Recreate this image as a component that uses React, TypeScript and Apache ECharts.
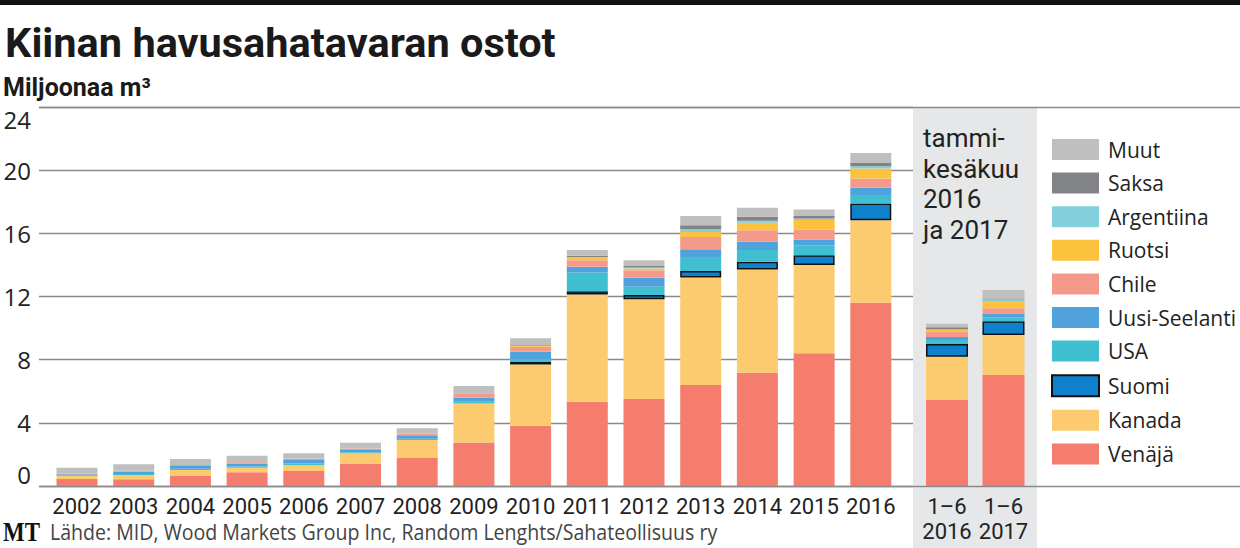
import React, { useEffect, useRef } from 'react';
import * as echarts from 'echarts';

// ---- Data (million m³) ----
const years = ['2002', '2003', '2004', '2005', '2006', '2007', '2008', '2009', '2010', '2011', '2012', '2013', '2014', '2015', '2016'];
const halfYears = ['1–6\n2016', '1–6\n2017'];

// each array: 15 full years (2002–2016) followed by Jan–Jun 2016, Jan–Jun 2017
const venaja = [0.44, 0.42, 0.63, 0.87, 0.95, 1.43, 1.77, 2.76, 3.82, 5.34, 5.51, 6.39, 7.17, 8.4, 11.6, 5.44, 7.03];
const kanada = [0.19, 0.28, 0.38, 0.29, 0.38, 0.64, 1.14, 2.47, 3.88, 6.79, 6.31, 6.81, 6.54, 5.59, 5.23, 2.74, 2.53];
const suomi = [null, null, null, null, null, null, null, null, 0.15, 0.21, 0.27, 0.42, 0.49, 0.63, 1.06, 0.81, 0.88];
const usa = [0.03, 0.06, 0.08, 0.08, 0.1, 0.07, 0.08, 0.1, 0.2, 1.18, 0.53, 0.88, 0.74, 0.63, 0.53, 0.25, 0.23];
const uusiSeelanti = [0.08, 0.15, 0.18, 0.19, 0.22, 0.14, 0.17, 0.28, 0.45, 0.36, 0.56, 0.49, 0.52, 0.36, 0.46, 0.2, 0.26];
const chile = [0.05, 0.05, 0.06, 0.07, 0.07, 0.1, 0.17, 0.26, 0.32, 0.42, 0.49, 0.78, 0.74, 0.64, 0.59, 0.34, 0.32];
const ruotsi = [0, 0, 0, 0, 0, 0, 0, 0, 0.05, 0.15, 0.11, 0.32, 0.47, 0.59, 0.63, 0.11, 0.46];
const argentiina = [0, 0, 0, 0, 0, 0, 0, 0, 0, 0.05, 0.05, 0.17, 0.13, 0.1, 0.15, 0.03, 0.11];
const saksa = [0, 0, 0, 0, 0, 0, 0, 0, 0.05, 0.08, 0.1, 0.25, 0.25, 0.15, 0.21, 0.14, 0.06];
const muut = [0.37, 0.41, 0.38, 0.42, 0.35, 0.36, 0.32, 0.46, 0.43, 0.36, 0.36, 0.59, 0.57, 0.42, 0.63, 0.22, 0.53];

const seriesDefs = [
  { name: 'Venäjä', data: venaja, color: '#f47d6d' },
  { name: 'Kanada', data: kanada, color: '#fdcb6f' },
  { name: 'Suomi', data: suomi, color: '#0f80cc', border: true },
  { name: 'USA', data: usa, color: '#3fbfd0' },
  { name: 'Uusi-Seelanti', data: uusiSeelanti, color: '#4fa2dc' },
  { name: 'Chile', data: chile, color: '#f59a8b' },
  { name: 'Ruotsi', data: ruotsi, color: '#fcc23d' },
  { name: 'Argentiina', data: argentiina, color: '#82d0dc' },
  { name: 'Saksa', data: saksa, color: '#818386' },
  { name: 'Muut', data: muut, color: '#bfbfc0' },
];

const legendOrder = ['Muut', 'Saksa', 'Argentiina', 'Ruotsi', 'Chile', 'Uusi-Seelanti', 'USA', 'Suomi', 'Kanada', 'Venäjä'];
const panelLines = ['tammi-', 'kesäkuu', '2016', 'ja 2017'];

const yMin = 0;
const yMax = 24;
const yStep = 4;

const TOP = 107;
const PLOT_H = 379;
const GRID_COLOR = '#8a8a8a';
const LABEL_FONT = 'Roboto, sans-serif';
const TEXT_FONT = '"Open Sans", sans-serif';

export default function App() {
  const ref = useRef<HTMLDivElement>(null);

  useEffect(() => {
    document.body.style.margin = '0';
    if (!ref.current) return;
    const chart = echarts.init(ref.current, null, { renderer: 'svg' });

    const series: any[] = [];
    seriesDefs.forEach((d) => {
      const itemStyle: any = { color: d.color };
      if (d.border) {
        itemStyle.borderColor = '#111';
        itemStyle.borderWidth = 1.5;
      }
      series.push({
        name: d.name,
        type: 'bar',
        stack: 'years',
        xAxisIndex: 1,
        yAxisIndex: 1,
        barWidth: 41,
        data: d.data.slice(0, years.length),
        itemStyle,
        silent: true,
      });
      series.push({
        name: d.name,
        type: 'bar',
        stack: 'half',
        xAxisIndex: 2,
        yAxisIndex: 2,
        barWidth: 42,
        data: d.data.slice(years.length),
        itemStyle,
        silent: true,
      });
    });

    const xLabel = {
      fontFamily: LABEL_FONT,
      fontSize: 22,
      color: '#222',
      margin: 8,
      lineHeight: 25,
      interval: 0,
    };

    const panelText = panelLines.map((t, i) => ({
      type: 'text', z: 5, x: 923, y: 138 + i * 30.7,
      style: {
        text: t, fontFamily: 'Roboto, sans-serif', fontSize: 26, lineHeight: 30, fill: '#222',
        verticalAlign: 'middle',
      },
    }));

    chart.setOption({
      animation: false,
      backgroundColor: '#fff',
      grid: [
        { left: 39, top: TOP, width: 874, height: PLOT_H },
        { left: 48.65, top: TOP, width: 850.5, height: PLOT_H },
        { left: 918.75, top: TOP, width: 113, height: PLOT_H },
        { left: 39, top: TOP, width: 1201, height: PLOT_H },
      ],
      xAxis: [
        { gridIndex: 0, type: 'category', data: [''], show: false },
        {
          gridIndex: 1, type: 'category', data: years, z: 5,
          axisLine: { show: false }, axisTick: { show: false }, axisLabel: xLabel,
        },
        {
          gridIndex: 2, type: 'category', data: halfYears, z: 5,
          axisLine: { show: false }, axisTick: { show: false }, axisLabel: xLabel,
        },
        { gridIndex: 3, type: 'category', data: [''], show: false },
      ],
      yAxis: [
        {
          gridIndex: 0, type: 'value', min: yMin, max: yMax, interval: yStep,
          axisLine: { show: false }, axisTick: { show: false },
          axisLabel: {
            fontFamily: TEXT_FONT, fontSize: 24, color: '#222', margin: 8,
            verticalAlignMaxLabel: 'top', verticalAlignMinLabel: 'bottom',
          },
          splitLine: { lineStyle: { color: GRID_COLOR, width: 1.3 } },
        },
        { gridIndex: 1, type: 'value', min: yMin, max: yMax, show: false },
        { gridIndex: 2, type: 'value', min: yMin, max: yMax, show: false },
        {
          gridIndex: 3, type: 'value', min: yMin, max: yMax, interval: yMax - yMin, z: 10,
          axisLine: { show: false }, axisTick: { show: false }, axisLabel: { show: false },
          splitLine: { lineStyle: { color: GRID_COLOR, width: 1.3 } },
        },
      ],
      legend: {
        data: legendOrder,
        orient: 'vertical',
        left: 1051,
        top: 139,
        itemWidth: 47,
        itemHeight: 21,
        itemGap: 12.6,
        icon: 'rect',
        selectedMode: false,
        padding: 0,
        textStyle: {
          fontFamily: TEXT_FONT, fontSize: 21, color: '#222', lineHeight: 21,
          padding: [0, 0, 0, 4],
        },
      },
      graphic: [
        { type: 'rect', z: 0, shape: { x: 0, y: 0, width: 1240, height: 5 }, style: { fill: '#111' } },
        { type: 'rect', z: 1, shape: { x: 913, y: 108, width: 124, height: 440 }, style: { fill: '#e6e7e8' } },
        {
          type: 'text', z: 5, x: 5, y: 42,
          style: {
            text: 'Kiinan havusahatavaran ostot', fontFamily: 'Roboto, sans-serif', fontWeight: 700,
            fontSize: 41.5, fill: '#1a1a1a', verticalAlign: 'middle',
          },
        },
        {
          type: 'text', z: 5, x: 3, y: 87,
          style: {
            text: 'Miljoonaa m³', fontFamily: 'Roboto, sans-serif', fontWeight: 700,
            fontSize: 25, fill: '#1a1a1a', verticalAlign: 'middle',
          },
        },
        ...panelText,
        {
          type: 'text', z: 5, x: 3, y: 532, scaleX: 0.85,
          style: {
            text: 'MT', fontFamily: '"Liberation Serif", serif', fontWeight: 700,
            fontSize: 27, fill: '#111', verticalAlign: 'middle',
          },
        },
        {
          type: 'text', z: 5, x: 50, y: 532, scaleX: 0.89,
          style: {
            text: 'Lähde: MID, Wood Markets Group Inc, Random Lenghts/Sahateollisuus ry',
            fontFamily: TEXT_FONT, fontSize: 22, fill: '#444', verticalAlign: 'middle',
          },
        },
      ],
      series,
    });

    return () => chart.dispose();
  }, []);

  return <div ref={ref} style={{ position: 'absolute', left: 0, top: 0, width: 1240, height: 548 }} />;
}
